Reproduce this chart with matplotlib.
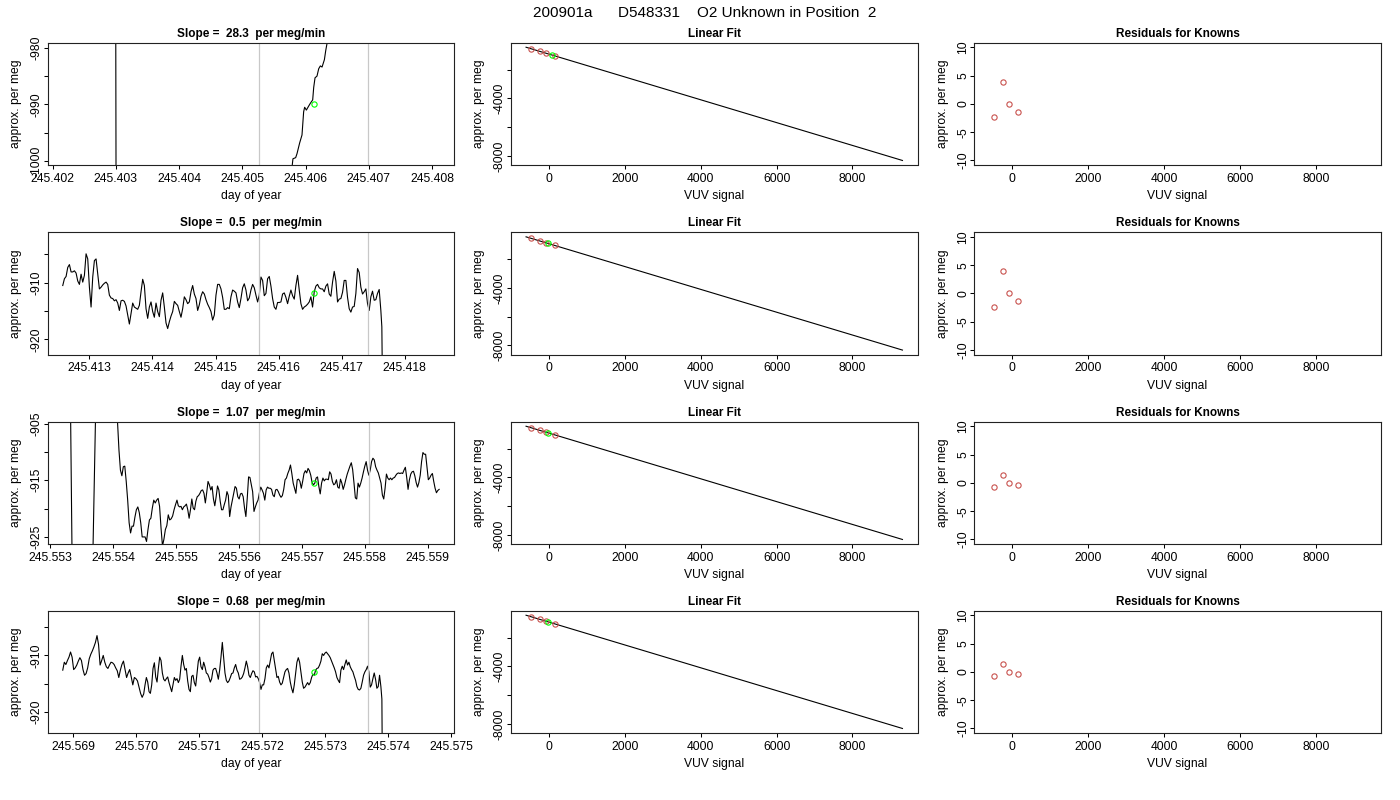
import numpy as np
import matplotlib
matplotlib.use("Agg")
from matplotlib import pyplot as plt

plt.rcParams["font.family"] = ["Liberation Sans", "DejaVu Sans"]

run_title = "200901a      D548331    O2 Unknown in Position  2"
slope_text = ["28.3", "0.5", "1.07", "0.68"]

# ---- time series (day of year, per meg) ----
# row 1: only the rising part is inside the window
p1_day = [245.40216, 245.402995, 245.403005, 245.40575,
          245.405789, 245.405799, 245.405842, 245.405863, 245.405905, 245.405942,
          245.405968, 245.405984, 245.406011, 245.406047, 245.406074, 245.406111,
          245.406127, 245.406148, 245.406179, 245.406206, 245.406232, 245.406259,
          245.406296, 245.406317, 245.406338, 245.40645, 245.40811]
p1_val = [-960, -960, -1020, -1010,
          -1000.6, -999.6, -999.4, -998.7, -996.8, -995.4,
          -991.3, -990.5, -991.0, -990.3, -989.8, -989.2,
          -987.0, -985.3, -985.0, -983.7, -983.2, -983.4,
          -982.1, -980.5, -979.2, -975, -960]

# row 2: regular record, then falls away
p2_start, p2_stop = 245.4125776, 245.4176199
p2_val = [-910.5, -909.3, -908.9, -907.3, -906.8, -908.1, -908.1, -907.9, -908.3, -909.7,
          -910.3, -908.5, -909.9, -908.7, -904.9, -905.8, -910.8, -914.3, -909.0, -906.1,
          -905.8, -908.4, -911.1, -910.8, -910.4, -910.1, -909.9, -910.3, -912.2, -912.7,
          -912.8, -913.2, -913.0, -913.6, -914.9, -913.2, -913.1, -913.3, -914.1, -915.7,
          -917.3, -915.4, -913.6, -914.3, -914.5, -914.7, -914.0, -911.6, -909.4, -910.5,
          -914.6, -916.3, -914.3, -913.4, -915.1, -916.1, -913.6, -915.1, -916.0, -913.1,
          -911.8, -914.3, -917.1, -918.1, -916.9, -915.9, -915.1, -913.3, -913.7, -914.0,
          -915.1, -916.1, -914.6, -912.5, -913.0, -913.7, -913.4, -911.6, -910.5, -912.0,
          -912.8, -914.9, -913.9, -912.4, -911.6, -912.0, -913.0, -913.8, -914.4, -915.1,
          -916.6, -915.7, -912.2, -910.3, -910.3, -911.1, -912.6, -914.7, -914.7, -914.4,
          -914.6, -912.5, -911.3, -911.5, -911.8, -913.4, -914.4, -912.8, -910.9, -910.2,
          -911.3, -913.2, -912.7, -911.3, -910.3, -910.9, -912.2, -913.4, -912.2, -909.0,
          -909.6, -912.3, -911.9, -909.3, -908.9, -910.6, -912.8, -914.3, -914.7, -913.5,
          -913.5, -913.4, -912.0, -911.8, -912.6, -913.7, -912.4, -911.3, -912.3, -912.9,
          -910.5, -908.7, -911.3, -913.7, -914.7, -914.3, -914.1, -913.8, -913.4, -912.5,
          -914.3, -911.6, -910.6, -910.3, -910.9, -911.1, -911.1, -911.6, -910.6, -910.2,
          -912.0, -912.4, -909.9, -908.0, -909.7, -913.4, -912.9, -912.8, -911.7, -909.6,
          -909.6, -912.6, -914.6, -915.2, -914.3, -914.2, -911.9, -907.5, -908.2, -910.8,
          -912.0, -911.6, -911.1, -913.7, -914.9, -912.5, -911.5, -913.1, -913.0, -911.9,
          -911.2, -914.9]
p2_tail_day = [245.4176357, 245.4176515, 245.418544]
p2_tail_val = [-917.8, -935.0, -940.0]

# row 3: spikes at the start, then regular record
p3_head_day = [245.5532016, 245.5533183, 245.5533554, 245.5536684, 245.5537374, 245.5540557]
p3_head_val = [-895, -895, -935, -935, -895, -895]
p3a_start, p3a_stop = 245.5540716, 245.5550159
p3b_start, p3b_stop = 245.5550371, 245.5591804
p3_val = [-904.7, -909.7, -913.2, -914.2, -912.6, -912.5, -915.2, -918.5, -922.5, -924.3,
          -923.1, -923.1, -921.5, -920.2, -919.7, -920.7, -922.5, -925.0, -925.0, -925.0,
          -925.8, -923.7, -922.0, -921.7, -919.9, -918.5, -919.0, -918.5, -918.2, -919.6,
          -923.4, -926.6, -925.4, -923.7, -923.0, -921.1, -922.0, -921.8, -921.3, -920.2,
          -919.3, -918.5,
          -919.5, -919.7, -919.6, -920.2, -919.7, -919.5, -919.2, -920.2,
          -921.7, -920.2, -918.3, -919.9, -920.2, -918.7, -917.9, -917.7, -917.3, -916.8,
          -916.7, -917.3, -919.0, -917.2, -915.2, -915.8, -916.7, -916.1, -918.3, -919.5,
          -917.9, -916.0, -916.7, -918.7, -920.2, -920.2, -919.3, -918.5, -917.0, -917.7,
          -921.4, -919.7, -918.5, -917.3, -916.1, -916.4, -917.9, -918.3, -917.4, -917.3,
          -917.9, -919.9, -921.4, -918.2, -914.4, -914.5, -915.8, -917.0, -920.5, -919.7,
          -919.0, -918.5, -917.2, -916.2, -916.7, -917.3, -918.5, -916.7, -916.2, -916.4,
          -916.4, -916.6, -917.6, -917.9, -916.7, -916.6, -917.0, -917.6, -918.0, -917.7,
          -916.6, -914.9, -914.6, -913.8, -913.2, -912.3, -913.8, -915.5, -916.4, -917.3,
          -914.9, -914.8, -915.2, -916.4, -915.2, -913.8, -913.3, -913.7, -912.9, -913.3,
          -914.1, -915.4, -915.8, -915.5, -914.6, -914.4, -916.1, -917.4, -915.5, -914.6,
          -915.1, -914.8, -914.8, -914.9, -913.5, -913.9, -915.2, -915.8, -915.6, -914.9,
          -916.2, -916.4, -914.8, -915.5, -916.6, -915.8, -914.8, -913.9, -913.2, -912.5,
          -911.9, -913.1, -915.5, -918.1, -918.3, -915.5, -916.2, -915.5, -914.6, -913.5,
          -912.5, -911.7, -913.2, -914.1, -913.2, -911.7, -911.1, -911.4, -912.6, -913.2,
          -913.7, -914.6, -915.5, -917.6, -918.3, -916.4, -913.9, -914.6, -914.9, -914.6,
          -914.9, -914.6, -914.5, -914.1, -913.8, -913.7, -913.8, -913.7, -913.8, -913.2,
          -912.7, -914.5, -916.6, -914.9, -913.9, -913.5, -913.4, -914.2, -915.4, -916.2,
          -915.4, -914.1, -911.7, -910.1, -910.4, -910.4, -912.6, -914.9, -914.6, -914.1,
          -913.8, -915.2, -916.4, -917.2, -916.8, -916.6]
p3_split = 42

# row 4: regular record, then falls away
p4a_start, p4a_stop = 245.5688307, 245.5701164
p4b_start, p4b_stop = 245.5701376, 245.5738836
p4_val = [-912.6, -911.2, -911.6, -910.9, -910.3, -909.4, -910.3, -912.5, -912.2, -911.7,
          -911.0, -910.4, -910.9, -912.5, -913.5, -913.2, -912.2, -910.6, -909.8, -909.2,
          -908.5, -907.7, -906.5, -908.1, -911.7, -910.9, -910.0, -911.2, -912.0, -912.3,
          -911.7, -911.2, -911.3, -911.6, -912.2, -912.7, -913.9, -912.6, -911.6, -911.0,
          -912.5, -913.9, -913.1, -912.5, -913.8, -915.2, -913.9, -914.1, -914.5, -915.6,
          -916.7, -917.4, -916.8,
          -915.2, -913.9, -914.7, -916.4, -916.7, -915.2, -912.3, -911.3, -913.8, -914.7,
          -912.3, -910.3, -910.9, -913.1, -914.2, -914.5, -914.1, -913.8, -914.8, -915.6,
          -916.4, -915.2, -913.9, -914.4, -914.1, -914.8, -914.2, -911.9, -910.0, -911.6,
          -912.6, -912.3, -914.5, -916.0, -916.4, -913.7, -913.5, -914.8, -915.4, -913.2,
          -911.0, -910.3, -912.0, -912.5, -911.2, -912.0, -913.1, -913.3, -913.9, -914.7,
          -914.1, -912.6, -912.3, -912.3, -913.1, -914.2, -912.6, -910.3, -907.7, -910.3,
          -913.1, -914.4, -914.8, -914.5, -913.9, -913.2, -913.1, -912.2, -911.6, -912.6,
          -913.1, -914.2, -914.1, -913.8, -913.2, -912.2, -911.0, -912.0, -913.5, -913.9,
          -913.2, -912.7, -912.9, -913.8, -913.7, -914.1, -914.8, -916.0, -915.2, -915.2,
          -914.1, -912.2, -911.7, -912.2, -910.9, -909.7, -909.4, -910.9, -912.3, -913.9,
          -913.7, -914.7, -915.2, -914.9, -913.9, -912.9, -912.5, -912.3, -913.1, -914.7,
          -915.8, -916.6, -915.2, -913.2, -911.2, -910.4, -911.2, -912.9, -914.7, -915.8,
          -915.6, -915.2, -914.8, -915.2, -914.8, -913.9, -913.3, -913.5, -912.6, -912.3,
          -912.2, -911.7, -911.0, -909.7, -910.0, -909.6, -909.4, -909.7, -910.0, -910.4,
          -911.0, -911.6, -912.2, -912.9, -913.9, -914.4, -914.8, -912.6, -911.9, -912.5,
          -911.6, -910.8, -911.7, -911.2, -912.0, -912.5, -912.9, -913.7, -914.4, -915.5,
          -916.0, -916.1, -915.8, -914.7, -913.5, -912.9, -912.5, -911.9, -912.9, -915.6,
          -915.2, -914.1, -913.1, -914.2, -915.8, -915.5, -913.5, -915.5]
p4_split = 53
p4_tail_day = [245.5738995, 245.5739101, 245.574809]
p4_tail_val = [-917.7, -935.0, -940.0]

# averaging window and unknown value for each row
win_start = [245.405261, 245.415687, 245.556321, 245.571947]
win_end = [245.406992, 245.417419, 245.558061, 245.573683]
unk_day = [245.406127, 245.416553, 245.557191, 245.572815]
unk_val = [-989.9, -911.9, -915.45, -912.9]

# ---- calibration ----
fit_slope = -0.7929
fit_intercept = -931.5
fit_range = [-606, 9317]
known_vuv = [-480, -250, -80, 145]
known_resid = [[-2.4, 3.9, 0.0, -1.4],
               [-2.4, 3.9, 0.0, -1.4],
               [-0.8, 1.3, 0.0, -0.4],
               [-0.8, 1.3, 0.0, -0.4]]

known_col = "#C8524E"
unk_col = "#00FF00"
win_col = "#C8C8C8"

series = [
    (np.array(p1_day), np.array(p1_val)),
    (np.concatenate([np.linspace(p2_start, p2_stop, len(p2_val)), p2_tail_day]),
     np.concatenate([p2_val, p2_tail_val])),
    (np.concatenate([p3_head_day,
                     np.linspace(p3a_start, p3a_stop, p3_split),
                     np.linspace(p3b_start, p3b_stop, len(p3_val) - p3_split)]),
     np.concatenate([p3_head_val, p3_val])),
    (np.concatenate([np.linspace(p4a_start, p4a_stop, p4_split),
                     np.linspace(p4b_start, p4b_stop, len(p4_val) - p4_split),
                     p4_tail_day]),
     np.concatenate([p4_val, p4_tail_val])),
]


def rpad(lo, hi):
    d = (hi - lo) * 0.04
    return lo - d, hi + d


def rticks(lo, hi, step):
    return np.arange(np.ceil(lo / step), np.floor(hi / step) + 1) * step


def r_axes(ax, xt, xl, yt, yl, xlabel, title):
    ax.set_xticks(xt, labels=xl)
    ax.set_yticks(yt, labels=yl)
    ax.tick_params(direction="out", length=3, width=0.75, labelsize=8.7, color="black")
    ax.tick_params(axis="x", pad=2.5)
    ax.tick_params(axis="y", pad=0.8)
    for lab in ax.get_yticklabels():
        lab.set_rotation(90)
        lab.set_va("center")
    for s in ax.spines.values():
        s.set_linewidth(0.8)
        s.set_color("#222222")
    ax.set_xlabel(xlabel, fontsize=8.7, labelpad=4)
    ax.set_ylabel("approx. per meg", fontsize=8.7, labelpad=6)
    ax.set_title(title, fontsize=8.5, fontweight="bold", pad=4.3)


W, H = 1400, 800
fig = plt.figure(figsize=(14, 8), dpi=100)
fig.text(0.503, 1 - 17.3 / H, run_title, ha="center", va="baseline", fontsize=11)

col_left = [47.7, 511.0, 974.3]
col_width = 406.5
row_top = [42.7, 232.3, 421.7, 610.7]
row_h = 122.3

fit_x = np.array(fit_range, dtype=float)
fit_y = fit_intercept + fit_slope * fit_x
vuv_lim = rpad(fit_x.min(), fit_x.max())
cal_ylim = rpad(fit_y.min(), fit_y.max())

for i in range(4):
    rects = [[l / W, 1 - (row_top[i] + row_h) / H, col_width / W, row_h / H] for l in col_left]

    # time series
    t, y = series[i]
    ax = fig.add_axes(rects[0])
    ax.plot(t, y, color="black", lw=0.8)
    ax.axvline(win_start[i], color=win_col, lw=0.9)
    ax.axvline(win_end[i], color=win_col, lw=0.9)
    ax.plot([unk_day[i]], [unk_val[i]], "o", mfc="none", mec=unk_col, ms=3.8, mew=0.8)
    xlim = rpad(t.min(), t.max())
    ylim = rpad(unk_val[i] - 10, unk_val[i] + 10)
    ax.set_xlim(xlim)
    ax.set_ylim(ylim)
    xt = rticks(xlim[0], xlim[1], 0.001)
    yt = rticks(ylim[0], ylim[1], 5)
    r_axes(ax, xt, ["%.3f" % v for v in xt], yt,
           ["%d" % v if k % 2 == 0 else "" for k, v in enumerate(yt)],
           "day of year", "Slope =  %s  per meg/min" % slope_text[i])

    # calibration line
    kx = np.array(known_vuv, dtype=float)
    ky = fit_intercept + fit_slope * kx + np.array(known_resid[i])
    ux = (unk_val[i] - fit_intercept) / fit_slope
    ax = fig.add_axes(rects[1])
    ax.plot(fit_x, fit_y, color="black", lw=0.8)
    ax.plot(kx, ky, "o", mfc="none", mec=known_col, ms=3.8, mew=0.8)
    ax.plot([ux], [unk_val[i]], "o", mfc="none", mec=unk_col, ms=3.8, mew=0.8)
    ax.set_xlim(vuv_lim)
    ax.set_ylim(cal_ylim)
    xt = rticks(vuv_lim[0], vuv_lim[1], 2000)
    yt = rticks(cal_ylim[0], cal_ylim[1], 2000)
    r_axes(ax, xt, ["%d" % v for v in xt], yt,
           ["%d" % v if k % 2 == 0 else "" for k, v in enumerate(yt)],
           "VUV signal", "Linear Fit")

    # residuals
    ax = fig.add_axes(rects[2])
    ax.plot(kx, known_resid[i], "o", mfc="none", mec=known_col, ms=3.8, mew=0.8)
    ax.set_xlim(vuv_lim)
    rl = rpad(-10, 10)
    ax.set_ylim(rl)
    yt = rticks(rl[0], rl[1], 5)
    r_axes(ax, xt, ["%d" % v for v in xt], yt, ["%d" % v for v in yt],
           "VUV signal", "Residuals for Knowns")

fig.savefig("out.png", dpi=100)
